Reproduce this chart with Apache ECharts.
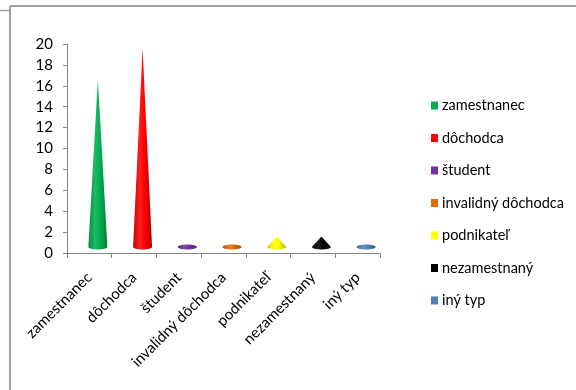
<!DOCTYPE html>
<html><head><meta charset="utf-8">
<script src="https://cdn.jsdelivr.net/npm/echarts@6/dist/echarts.min.js"></script>
<style>html,body{margin:0;padding:0;background:#fff}#c{width:576px;height:390px}</style>
</head><body><div id="c"></div>
<script>
const categories = ['zamestnanec','dôchodca','študent','invalidný dôchodca','podnikateľ','nezamestnaný','iný typ'];
const values = [16, 19, 0, 0, 1, 1, 0];
const colors = ['#00b050','#ff0000','#7030a0','#e36c09','#ffff00','#000000','#4f81bd'];
const yTicks = {min: 0, max: 20, interval: 2};

function shade(hex, f){
  const n = parseInt(hex.slice(1),16);
  let r=(n>>16)&255,g=(n>>8)&255,b=n&255;
  if(f<0){r=Math.round(r*(1+f));g=Math.round(g*(1+f));b=Math.round(b*(1+f));}
  else {r=Math.round(r+(255-r)*f);g=Math.round(g+(255-g)*f);b=Math.round(b+(255-b)*f);}
  return 'rgb('+r+','+g+','+b+')';
}
function grad(c){
  return {type:'linear',x:0,y:0,x2:1,y2:0,colorStops:[
    {offset:0,color:shade(c,-0.2)},{offset:0.35,color:shade(c,0.12)},
    {offset:0.6,color:c},{offset:1,color:shade(c,-0.3)}]};
}
const DX=8.5, DY=-6, RX=9.5, RY=2.5;
function renderCone(params, api){
  const x = api.value(0), v = api.value(1);
  const base = api.coord([x,0]), top = api.coord([x,v]);
  const cx = base[0]+DX, by = base[1]+DY, ty = top[1]+DY;
  const c = colors[params.seriesIndex];
  if (v <= 0) {
    return {type:'ellipse', shape:{cx:cx, cy:by, rx:RX, ry:RY}, style:{fill:grad(c)}};
  }
  const d = 'M'+(cx-RX)+' '+by+' L'+cx+' '+ty+' L'+(cx+RX)+' '+by+
            ' A'+RX+' '+RY+' 0 0 1 '+(cx-RX)+' '+by+' Z';
  return {type:'path', shape:{pathData:d}, style:{fill:grad(c)}};
}
const series = categories.map((name,i)=>({
  type:'custom', name:name, renderItem:renderCone,
  itemStyle:{color:colors[i]},
  data:[[i, values[i]]], clip:false
}));
const font = 'Lato, "Noto Sans", sans-serif';
const chart = echarts.init(document.getElementById('c'), null, {renderer:'canvas'});
chart.setOption({
  animation:false,
  backgroundColor:'#fff',
  grid:{left:67, right:196, top:44, bottom:137},
  xAxis:{type:'category', data:categories, boundaryGap:true,
    axisLine:{lineStyle:{color:'#868686'}},
    axisTick:{show:true, length:5, lineStyle:{color:'#868686'}},
    axisLabel:{rotate:45, margin:22, color:'#000', fontFamily:font, fontSize:15, interval:0}},
  yAxis:{type:'value', min:yTicks.min, max:yTicks.max, interval:yTicks.interval,
    splitLine:{show:false},
    axisLine:{show:true, lineStyle:{color:'#868686'}},
    axisTick:{show:true, length:4, lineStyle:{color:'#868686'}},
    axisLabel:{margin:14, color:'#000', fontFamily:font, fontSize:15}},
  legend:{orient:'vertical', left:426, top:93, icon:'rect', itemWidth:7, itemHeight:8,
    itemGap:17.5, textStyle:{fontFamily:font, fontSize:14.5, color:'#000', lineHeight:15, padding:[0,0,0,-1]},
    data:categories},
  graphic:[
    {type:'line', shape:{x1:10,y1:6,x2:576,y2:6}, style:{stroke:'#a0a0a0', lineWidth:2}},
    {type:'line', shape:{x1:10,y1:6,x2:10,y2:390}, style:{stroke:'#a0a0a0', lineWidth:2}},
    {type:'line', shape:{x1:0,y1:10.5,x2:9,y2:10.5}, style:{stroke:'#a0a0a0', lineWidth:1.5}}
  ],
  series:series
});
</script></body></html>
